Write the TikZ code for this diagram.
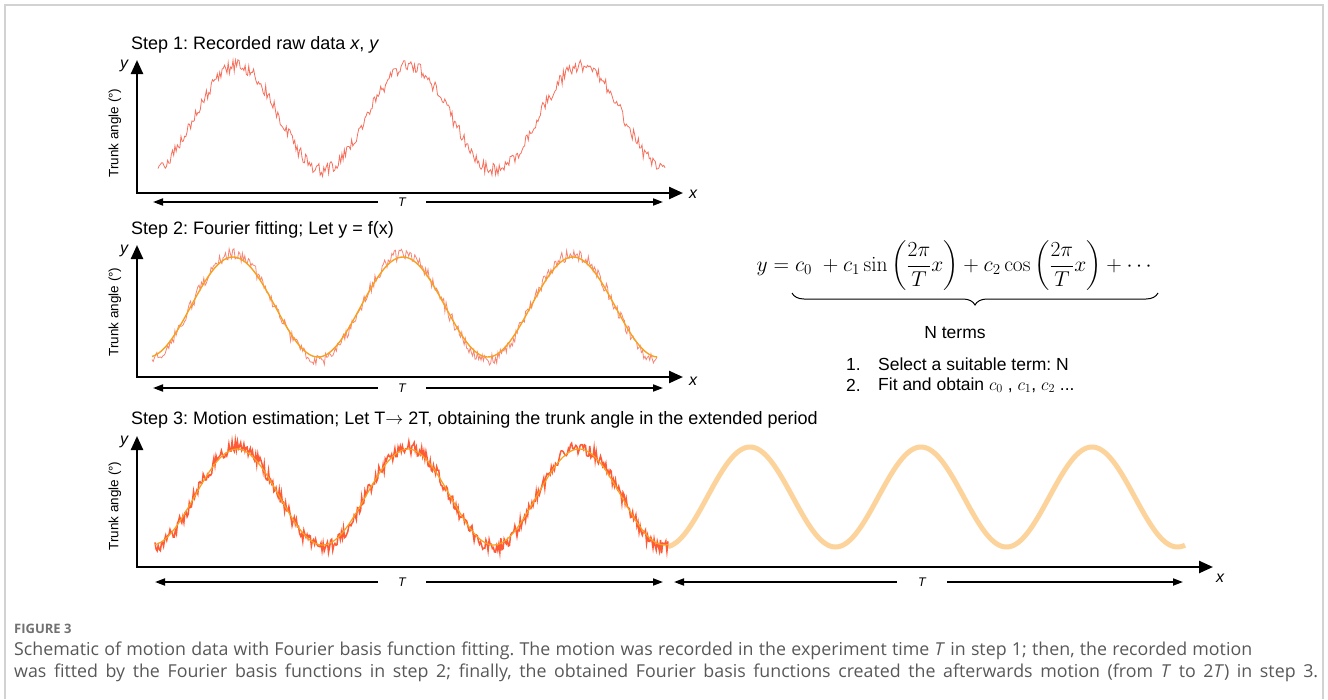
\RequirePackage{fix-cm}
\documentclass[tikz,border=0pt]{standalone}
\usepackage{amsmath}
\usepackage[no-math]{fontspec}
\setmainfont{Liberation Sans}
\newfontfamily\captionfont{Open Sans}
\usetikzlibrary{arrows.meta, positioning, calc, decorations.pathreplacing}
\definecolor{rawred}{HTML}{F6705E}
\definecolor{fitorange}{HTML}{F7A21E}
\definecolor{estred}{HTML}{FF5A38}
\definecolor{extpeach}{HTML}{FDD39C}
\definecolor{capgray}{HTML}{585858}
\definecolor{framegray}{HTML}{D2D2D2}
\frenchspacing

\begin{document}
\begin{tikzpicture}[x=1pt, y=-1pt,
    axis/.style={line width=2.4pt, {Triangle[length=14pt, width=12pt]}-{Triangle[length=14pt, width=12pt]}},
    span/.style={line width=1.8pt, -{Triangle[length=10pt, width=7pt]}},
    steptitle/.style={anchor=west, inner sep=0pt, font=\fontsize{18}{21}\selectfont},
    trunklabel/.style={rotate=90, inner sep=0pt, font=\fontsize{13.5}{15}\selectfont},
    axlabel/.style={inner sep=0pt, font=\fontsize{16}{18}\selectfont\itshape},
    tlabel/.style={inner sep=0pt, minimum height=10pt, font=\fontsize{12.5}{14}\selectfont\itshape},
    plain/.style={inner sep=0pt, font=\fontsize{17.5}{20}\selectfont},
    captext/.style={anchor=base west, inner sep=0pt, text=capgray, font=\captionfont\fontsize{17.8}{20}\selectfont}]
    \useasboundingbox (0,0) rectangle (1328,699);
    \pgfmathsetseed{11}

    % Frame
    \draw[framegray, line width=1.5pt] (5,699) -- (5,5) -- (1323,5) -- (1323,699);

    % Step 1: recorded raw data
    \node[steptitle] (title1) at (131,45) {Step 1: Recorded raw data \textit{x}, \textit{y}};
    \coordinate (ytop1) at (137,60);
    \coordinate (o1) at (137,193);
    \coordinate (xend1) at (683,193);
    \draw[rawred, line width=0.8pt, domain=158:665, samples=420] plot (\x, {118 - 52*sin((\x-194)*2.09302) + 6.5*rand});
    \draw[axis] (ytop1) -- (o1) -- (xend1);
    \node[axlabel] (ylab1) at (124,66) {y};
    \node[axlabel] (xlab1) at (693,194) {x};
    \node[trunklabel] (trunk1) at (115,133) {Trunk angle (°)};
    \node[tlabel, minimum width=48pt] (t1) at (402,202) {T};
    \coordinate (t1l) at (153,202);
    \coordinate (t1r) at (663,202);
    \draw[span] (t1.west) -- (t1l);
    \draw[span] (t1.east) -- (t1r);

    % Step 2: Fourier fitting
    \node[steptitle] (title2) at (131,230) {Step 2: Fourier fitting; Let y = f(x)};
    \coordinate (ytop2) at (137,245);
    \coordinate (o2) at (137,377);
    \coordinate (xend2) at (683,377);
    \draw[rawred!85, line width=0.8pt, domain=152:657, samples=420] plot (\x, {307 - 53*sin((\x-190.5)*2.11765) + 6*rand});
    \draw[fitorange, line width=1.4pt, domain=152:657, samples=200] plot (\x, {307 - 50*sin((\x-190.5)*2.11765)});
    \draw[axis] (ytop2) -- (o2) -- (xend2);
    \node[axlabel] (ylab2) at (124,251) {y};
    \node[axlabel] (xlab2) at (693,381) {x};
    \node[trunklabel] (trunk2) at (115,312) {Trunk angle (°)};
    \node[tlabel, minimum width=48pt] (t2) at (402,388) {T};
    \coordinate (t2l) at (153,388);
    \coordinate (t2r) at (663,388);
    \draw[span] (t2.west) -- (t2l);
    \draw[span] (t2.east) -- (t2r);

    % Fourier series
    \node[inner sep=0pt, font=\fontsize{21.5}{24}\selectfont] (series) at (956,266)
        {$\displaystyle y = c_0\;+c_1\sin\left(\frac{2\pi}{T}x\right)+c_2\cos\left(\frac{2\pi}{T}x\right)+\cdots$};
    \coordinate (bracel) at (792,293);
    \coordinate (bracer) at (1158,293);
    \draw[decorate, decoration={brace, mirror, amplitude=12pt}, line width=1pt] (bracel) -- (bracer);
    \node[plain] (nterms) at (955,333) {N terms};
    \node[plain, anchor=west] (num1) at (846,364) {1.};
    \node[plain, anchor=west] (item1) at (878,364) {Select a suitable term: N};
    \node[plain, anchor=west] (num2) at (846,385) {2.};
    \node[plain, anchor=west] (item2) at (878,385) {Fit and obtain $c_0$ , $c_1$, $c_2$ ...};

    % Step 3: motion estimation
    \node[steptitle] (title3) at (131,420) {Step 3: Motion estimation; Let T\(\rightarrow\) 2T, obtaining the trunk angle in the extended period};
    \coordinate (ytop3) at (137,436);
    \coordinate (o3) at (137,567);
    \coordinate (xend3) at (1213,567);
    \draw[extpeach, line width=5pt, domain=668:1185, samples=300] plot (\x, {497 - 50*sin((\x-194.25)*2.10526)});
    \draw[estred, line width=1.5pt, domain=155:668, samples=480] plot (\x, {497 - 50*sin((\x-194.25)*2.10526) + 7*rand});
    \draw[fitorange, line width=1.2pt, domain=155:668, samples=200] plot (\x, {497 - 48*sin((\x-194.25)*2.10526)});
    \draw[axis] (ytop3) -- (o3) -- (xend3);
    \node[axlabel] (ylab3) at (124,442) {y};
    \node[axlabel] (xlab3) at (1220,578) {x};
    \node[trunklabel] (trunk3) at (115,506) {Trunk angle (°)};
    \node[tlabel, minimum width=48pt] (t3) at (402,582) {T};
    \coordinate (t3l) at (155,582);
    \coordinate (t3r) at (663,582);
    \draw[span] (t3.west) -- (t3l);
    \draw[span] (t3.east) -- (t3r);
    \node[tlabel, minimum width=50pt] (t4) at (922,582) {T};
    \coordinate (t4l) at (674,582);
    \coordinate (t4r) at (1183,582);
    \draw[span] (t4.west) -- (t4l);
    \draw[span] (t4.east) -- (t4r);

    % Caption
    \node[anchor=base west, inner sep=0pt, text=capgray!85, font=\captionfont\bfseries\fontsize{13}{15}\selectfont] (figno) at (14,633) {FIGURE 3};
    \node[captext] (cap1) at (14,655)
        {\makebox[1238pt][s]{Schematic of motion data with Fourier basis function fitting. The motion was recorded in the experiment time \textit{T} in step 1; then, the recorded motion}};
    \node[captext] (cap2) at (14,677)
        {\makebox[1304pt][s]{was fitted by the Fourier basis functions in step 2; finally, the obtained Fourier basis functions created the afterwards motion (from \textit{T} to 2\textit{T}) in step 3.}};
\end{tikzpicture}
\end{document}
